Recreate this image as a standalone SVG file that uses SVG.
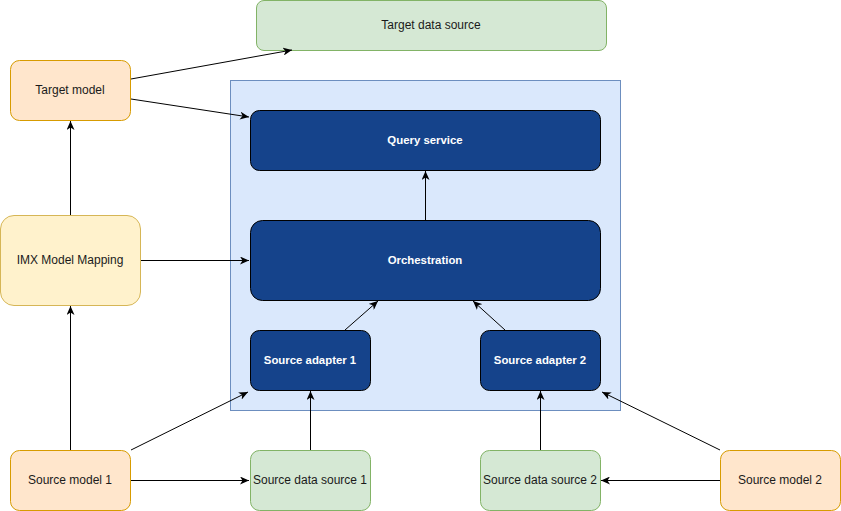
<svg xmlns="http://www.w3.org/2000/svg" width="841" height="511" viewBox="0 0 841 511">
<defs>
<marker id="arr" viewBox="0 0 10 8" refX="9" refY="4" markerWidth="10" markerHeight="8" markerUnits="userSpaceOnUse" orient="auto">
<path d="M0,0 L9,4 L0,8 L2.5,4 Z" fill="#000"/>
</marker>
<style>
text{font-family:"Liberation Sans",Arial,sans-serif;font-size:12px;text-anchor:middle;dominant-baseline:central;fill:#1a1a1a}
.or{fill:#ffe6cc;stroke:#d79b00}
.ye{fill:#fff2cc;stroke:#d6b656}
.gr{fill:#d5e8d4;stroke:#82b366}
.bl{fill:#15438b;stroke:#000}
.w{fill:#fff;font-weight:bold;font-size:11.4px}
.c line{stroke:#000;stroke-width:1;marker-end:url(#arr)}
</style>
</defs>
<rect x="0" y="0" width="841" height="511" fill="#fff"/>
<rect id="container" x="230.5" y="80.5" width="390" height="330" fill="#dae8fc" stroke="#6c8ebf"/>
<g id="targetDataSource"><rect class="gr" x="256.5" y="0.5" width="350" height="50" rx="7.5"/><text x="431" y="25">Target data source</text></g>
<g id="targetModel"><rect class="or" x="10.5" y="60.5" width="120" height="60" rx="9"/><text x="70" y="90">Target model</text></g>
<g id="imxMapping"><rect class="ye" x="0.5" y="215.5" width="140" height="90" rx="13.5"/><text x="70" y="260">IMX Model Mapping</text></g>
<g id="queryService"><rect class="bl" x="250.5" y="110.5" width="350" height="60" rx="9"/><text class="w" x="425" y="140">Query service</text></g>
<g id="orchestration"><rect class="bl" x="250.5" y="220.5" width="350" height="80" rx="12"/><text class="w" x="425" y="260">Orchestration</text></g>
<g id="sourceAdapter1"><rect class="bl" x="250.5" y="330.5" width="120" height="60" rx="9"/><text class="w" x="310" y="360">Source adapter 1</text></g>
<g id="sourceAdapter2"><rect class="bl" x="480.5" y="330.5" width="120" height="60" rx="9"/><text class="w" x="540" y="360">Source adapter 2</text></g>
<g id="sourceModel1"><rect class="or" x="10.5" y="450.5" width="120" height="60" rx="9"/><text x="70" y="480">Source model 1</text></g>
<g id="sourceDataSource1"><rect class="gr" x="250.5" y="450.5" width="120" height="60" rx="9"/><text x="310" y="480">Source data source 1</text></g>
<g id="sourceDataSource2"><rect class="gr" x="480.5" y="450.5" width="120" height="60" rx="9"/><text x="540" y="480">Source data source 2</text></g>
<g id="sourceModel2"><rect class="or" x="720.5" y="450.5" width="120" height="60" rx="9"/><text x="780" y="480">Source model 2</text></g>
<g id="connectors" class="c">
<line x1="131" y1="79" x2="292" y2="50"/>
<line x1="131" y1="99" x2="249" y2="117"/>
<line x1="70.5" y1="215" x2="70.5" y2="121"/>
<line x1="141" y1="260.5" x2="249" y2="260.5"/>
<line x1="70.5" y1="450" x2="70.5" y2="306"/>
<line x1="131" y1="450" x2="248" y2="392"/>
<line x1="131" y1="480.5" x2="249" y2="480.5"/>
<line x1="310.5" y1="450" x2="310.5" y2="391"/>
<line x1="540.5" y1="450" x2="540.5" y2="391"/>
<line x1="720" y1="480.5" x2="601" y2="480.5"/>
<line x1="720" y1="450" x2="602" y2="392"/>
<line x1="345" y1="330" x2="378" y2="301"/>
<line x1="505" y1="330" x2="473" y2="301"/>
<line x1="425.5" y1="220" x2="425.5" y2="171"/>
</g>
</svg>
